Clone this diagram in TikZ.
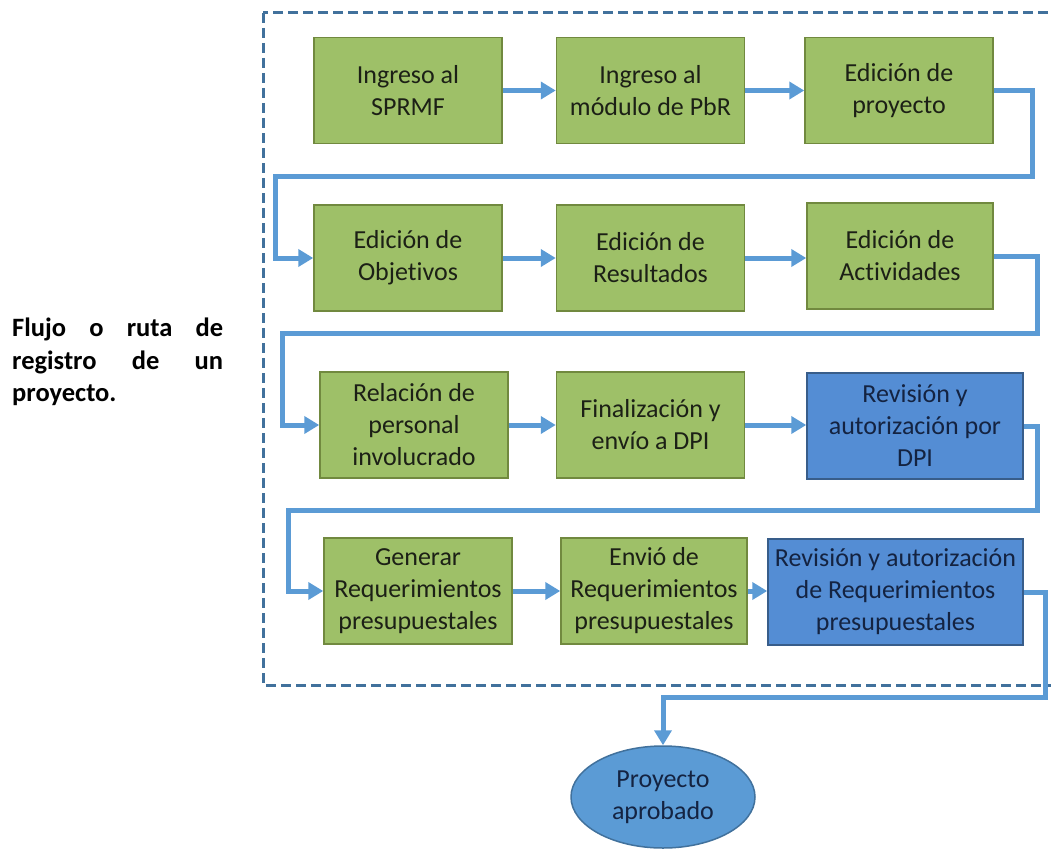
\documentclass[tikz,border=0pt]{standalone}
\usepackage{fontspec}
\setmainfont{Carlito}[Ligatures=NoCommon]
\usepackage{tikz}
\usetikzlibrary{arrows.meta,positioning,shapes.geometric}
\definecolor{grfill}{RGB}{158,192,104}
\definecolor{grline}{RGB}{113,137,63}
\definecolor{blfill}{RGB}{84,141,212}
\definecolor{blline}{RGB}{56,93,138}
\definecolor{flowcol}{RGB}{91,155,213}
\definecolor{framecol}{RGB}{65,113,156}
\definecolor{gtext}{RGB}{28,32,22}
\definecolor{btext}{RGB}{20,35,65}
\tikzset{
  gbox/.style={draw=grline,fill=grfill,line width=1.5pt,align=center,inner sep=0pt,
               minimum width=188pt,minimum height=106pt,text=gtext,
               font=\fontsize{26}{32}\selectfont},
  bbox/.style={gbox,draw=blline,fill=blfill,text=btext},
  endst/.style={ellipse,draw=framecol,fill=flowcol,line width=1.5pt,align=center,inner sep=0pt,
                minimum width=184pt,minimum height=102pt,text=btext,
                font=\fontsize{26}{32}\selectfont},
  flow/.style={draw=flowcol,line width=5pt,-{Triangle[length=15pt,width=17pt]}},
  dashframe/.style={draw=framecol,line width=3pt,dash pattern=on 10pt off 5pt},
  ttl/.style={anchor=west,text width=211pt,align=justify,inner sep=0pt,
              font=\bfseries\fontsize{26.5}{32.5}\selectfont},
}
\begin{document}
\begin{tikzpicture}[x=1pt,y=-1pt]
  \useasboundingbox (0,0) rectangle (1051,848);
  \draw[dashframe] (263,13) rectangle (1056,685);

  \node[ttl] (tit) at (12,362) {Flujo\hfill o\hfill ruta\hfill de\\registro\hfill de\hfill un\\proyecto.};

  \node[gbox] (ing)  at (408,90.5)  {Ingreso al\\SPRMF};
  \node[gbox] (mod)  at (650.5,90.5) {Ingreso al\\módulo de PbR};
  \node[gbox] (proy) at (899,90.5)  {Edición de\\proyecto};

  \node[gbox] (obj)  at (408,258)   {Edición de\\Objetivos};
  \node[gbox] (res)  at (650.5,258) {Edición de\\Resultados};
  \node[gbox,minimum width=186pt] (act) at (900,256) {Edición de\\Actividades};

  \node[gbox] (pers) at (414,425)   {Relación de\\personal\\involucrado};
  \node[gbox] (fin)  at (650.5,425) {Finalización y\\envío a DPI};
  \node[bbox,minimum width=216pt] (rdpi) at (915,426) {Revisión y\\autorización por\\DPI};

  \node[gbox] (gen)  at (418,591)   {Generar\\Requerimientos\\presupuestales};
  \node[gbox,minimum width=186pt] (env) at (654,591) {Envió de\\Requerimientos\\presupuestales};
  \node[bbox,minimum width=255pt] (rreq) at (895.5,592) {Revisión y autorización\\de Requerimientos\\presupuestales};

  \node[endst] (apr) at (663,797) {Proyecto\\aprobado};

  \draw[flow] (ing) -- (mod);
  \draw[flow] (mod) -- (proy);
  \draw[flow] (proy.east) -- (1032,90.5) -- (1032,176) -- (275,176) |- (obj.west);
  \draw[flow] (obj) -- (res);
  \draw[flow] (res) -- (act.west |- res);
  \draw[flow] (act.east) -- (1037,256) -- (1037,333) -- (282,333) |- (pers.west);
  \draw[flow] (pers) -- (fin);
  \draw[flow] (fin) -- (rdpi.west |- fin);
  \draw[flow] (rdpi.east) -- (1037,426) -- (1037,510) -- (288,510) |- (gen.west);
  \draw[flow] (gen) -- (env);
  \draw[flow] (env) -- (rreq.west |- env);
  \draw[flow] (rreq.east) -- (1045,592) -- (1045,697) -- (663,697) -- (apr.north);
\end{tikzpicture}
\end{document}
